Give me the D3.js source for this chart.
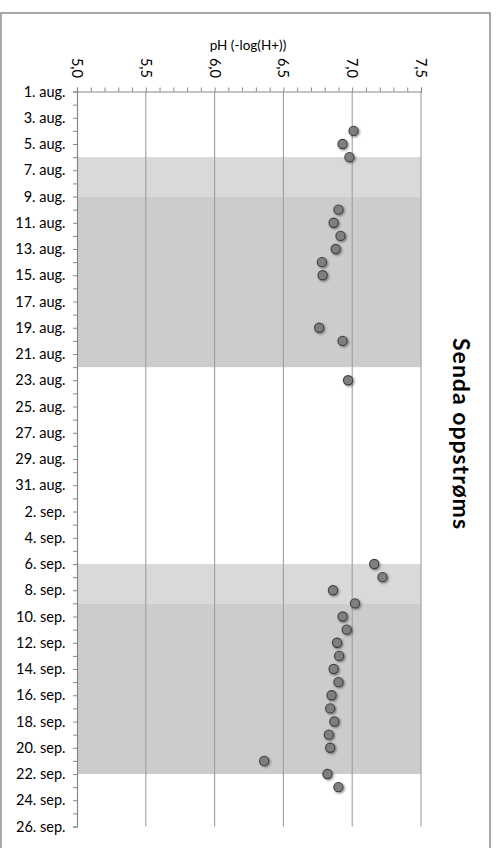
<!DOCTYPE html>
<html>
<head>
<meta charset="utf-8">
<script src="https://cdn.jsdelivr.net/npm/d3@7"></script>
<style>
  html, body { margin: 0; padding: 0; background: #fff; }
  svg { display: block; }
  text { font-family: Lato, "Noto Sans", sans-serif; fill: #000; }
</style>
</head>
<body>
<script>
// ---- Data ----
const sampleDates = [
  "2012-08-04","2012-08-05","2012-08-06","2012-08-10","2012-08-11","2012-08-12",
  "2012-08-13","2012-08-14","2012-08-15","2012-08-19","2012-08-20","2012-08-23",
  "2012-09-06","2012-09-07","2012-09-08","2012-09-09","2012-09-10","2012-09-11",
  "2012-09-12","2012-09-13","2012-09-14","2012-09-15","2012-09-16","2012-09-17",
  "2012-09-18","2012-09-19","2012-09-20","2012-09-21","2012-09-22","2012-09-23"
];
const phValues = [
  7.01, 6.93, 6.98, 6.90, 6.865, 6.915,
  6.88, 6.78, 6.785, 6.76, 6.93, 6.97,
  7.16, 7.22, 6.86, 7.02, 6.93, 6.96,
  6.89, 6.905, 6.865, 6.90, 6.85, 6.84,
  6.87, 6.83, 6.84, 6.36, 6.82, 6.90
];
const bandStarts = ["2012-08-06","2012-08-09","2012-09-06","2012-09-09"];
const bandEnds   = ["2012-08-09","2012-08-22","2012-09-09","2012-09-22"];
const bandTones  = ["light","dark","light","dark"];
const phTicks = [5.0, 5.5, 6.0, 6.5, 7.0, 7.5];
const phTickLabels = ["5,0","5,5","6,0","6,5","7,0","7,5"];
const monthNames = ["jan.","feb.","mar.","apr.","mai","jun.","jul.","aug.","sep.","okt.","nov.","des."];
const axisTitle = "pH (-log(H+))";
const chartTitle = "Senda oppstrøms";
const dateStart = "2012-08-01", dateEnd = "2012-09-26";

// ---- Setup ----
const W = 497, H = 848;
const parse = d3.utcParse("%Y-%m-%d");
const svg = d3.select("body").append("svg").attr("width", W).attr("height", H);

const defs = svg.append("defs");
const f = defs.append("filter").attr("id","shadow").attr("x","-50%").attr("y","-50%").attr("width","200%").attr("height","200%");
f.append("feDropShadow").attr("dx",1.2).attr("dy",1.2).attr("stdDeviation",0.9)
  .attr("flood-color","#000").attr("flood-opacity",0.45);

// outer border
svg.append("rect").attr("x",1).attr("y",13).attr("width",489).attr("height",H)
  .attr("fill","#fff").attr("stroke","#8a8a8a").attr("stroke-width",1.5);

const x = d3.scaleLinear().domain([5, 7.5]).range([77, 421]);
const y = d3.scaleUtc().domain([parse(dateStart), parse(dateEnd)]).range([91.5, 826.5]);

// bands
svg.append("g").selectAll("rect").data(bandStarts.map((s,i)=>({s:parse(s), e:parse(bandEnds[i]), t:bandTones[i]})))
  .join("rect")
  .attr("x", x(5)).attr("width", x(7.5)-x(5))
  .attr("y", d => y(d.s)).attr("height", d => y(d.e)-y(d.s))
  .attr("fill", d => d.t === "light" ? "#d9d9d9" : "#cccccc");

// vertical gridlines
svg.append("g").selectAll("line").data(phTicks.slice(1)).join("line")
  .attr("x1", d => x(d)).attr("x2", d => x(d))
  .attr("y1", y.range()[0]).attr("y2", y.range()[1])
  .attr("stroke", "#9e9e9e").attr("stroke-width", 1.1);

// top axis (pH)
const topAxis = d3.axisTop(x).tickValues(d3.range(50, 76, 1).map(v => v/10)).tickSize(4).tickFormat("");
const gTop = svg.append("g").attr("transform", `translate(0,${y.range()[0]})`).call(topAxis);
gTop.select(".domain").attr("stroke","#868686").attr("stroke-width",1.2);
gTop.selectAll(".tick line").attr("stroke","#868686");

svg.append("g").selectAll("text").data(phTicks).join("text")
  .attr("transform", d => `translate(${x(d)},78) rotate(90)`)
  .attr("text-anchor","end").attr("dy","0.35em")
  .style("font-size","14.5px")
  .text((d,i) => phTickLabels[i]);

svg.append("text").attr("x", 248).attr("y", 50).attr("text-anchor","middle")
  .style("font-size","13.5px").text(axisTitle);

// left axis (dates)
const allDays = d3.utcDay.range(parse(dateStart), d3.utcDay.offset(parse(dateEnd),1));
const labelDays = allDays.filter((d,i) => i % 2 === 0);
const leftAxis = d3.axisLeft(y).tickValues(allDays).tickSize(4).tickFormat("");
const gLeft = svg.append("g").attr("transform", `translate(${x(5)},0)`).call(leftAxis);
gLeft.select(".domain").attr("stroke","#868686").attr("stroke-width",1.2);
gLeft.selectAll(".tick line").attr("stroke","#868686");

svg.append("g").selectAll("text").data(labelDays).join("text")
  .attr("x", 65.5).attr("y", d => y(d)).attr("dy","0.35em")
  .attr("text-anchor","end").style("font-size","14.5px")
  .text(d => `${d.getUTCDate()}. ${monthNames[d.getUTCMonth()]}`);

// points
svg.append("g").selectAll("circle").data(sampleDates.map((d,i)=>({d:parse(d), v:phValues[i]})))
  .join("circle")
  .attr("cx", d => x(d.v)).attr("cy", d => y(d.d)).attr("r", 4.6)
  .attr("fill","#7f7f7f").attr("stroke","#3f3f3f").attr("stroke-width",1.1)
  .attr("filter","url(#shadow)");

// title
svg.append("text").attr("transform","translate(453,434) rotate(90)")
  .attr("text-anchor","middle")
  .style("font-size","23px").style("font-weight","bold").style("letter-spacing","1px")
  .text(chartTitle);
</script>
</body>
</html>
